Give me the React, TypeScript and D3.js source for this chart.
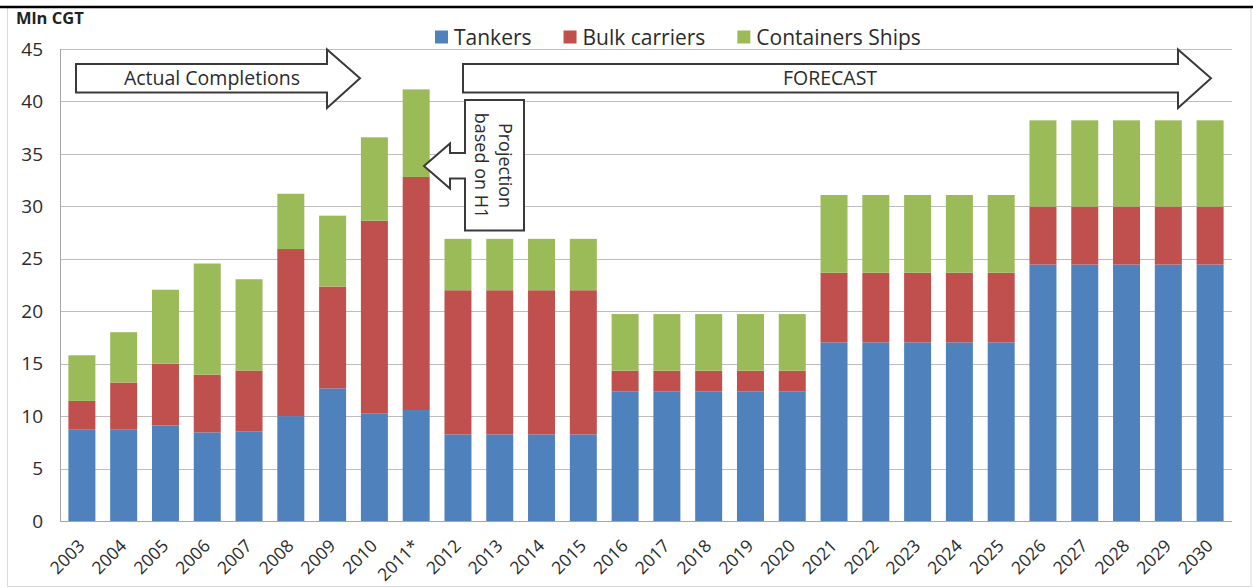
import React, { useEffect, useRef } from 'react';
import * as d3 from 'd3';

// newbuilding completions by ship type, Mln CGT (actual 2003-2011, forecast after)
const years = [
  '2003', '2004', '2005', '2006', '2007', '2008', '2009', '2010', '2011*',
  '2012', '2013', '2014', '2015', '2016', '2017', '2018', '2019', '2020',
  '2021', '2022', '2023', '2024', '2025', '2026', '2027', '2028', '2029', '2030'
];
const tankers = [
  8.75, 8.75, 9.1, 8.45, 8.55, 10.0, 12.65, 10.27, 10.58,
  8.26, 8.26, 8.26, 8.26, 12.33, 12.33, 12.33, 12.33, 12.33,
  17.03, 17.03, 17.03, 17.03, 17.03, 24.45, 24.45, 24.45, 24.45, 24.45
];
const bulkCarriers = [
  2.7, 4.45, 5.9, 5.5, 5.8, 15.93, 9.7, 18.36, 22.22,
  13.74, 13.74, 13.74, 13.74, 2.0, 2.0, 2.0, 2.0, 2.0,
  6.64, 6.64, 6.64, 6.64, 6.64, 5.52, 5.52, 5.52, 5.52, 5.52
];
const containerShips = [
  4.35, 4.8, 7.05, 10.6, 8.7, 5.27, 6.76, 7.95, 8.35,
  4.9, 4.9, 4.9, 4.9, 5.4, 5.4, 5.4, 5.4, 5.4,
  7.41, 7.41, 7.41, 7.41, 7.41, 8.23, 8.23, 8.23, 8.23, 8.23
];
const seriesNames = ['Tankers', 'Bulk carriers', 'Containers Ships'];
const yTicks = [0, 5, 10, 15, 20, 25, 30, 35, 40, 45];

const colors = ['#4F81BD', '#C0504D', '#9BBB59'];
const font = '"Open Sans", sans-serif';
const textColor = '#2b2b2b';

export default function App() {
  const ref = useRef<SVGSVGElement>(null);

  useEffect(() => {
    const width = 1253;
    const height = 588;
    const svg = d3.select(ref.current)
      .attr('width', width)
      .attr('height', height)
      .style('display', 'block')
      .style('font-family', font);
    svg.selectAll('*').remove();

    const x = d3.scaleBand<string>()
      .domain(years)
      .range([61, 1231])
      .paddingInner(0.354)
      .paddingOuter(0.177);
    const y = d3.scaleLinear().domain([0, 45]).range([521, 49]);

    // outer frame
    svg.append('rect')
      .attr('x', 7.5).attr('y', 7.5)
      .attr('width', 1243.5).attr('height', 579)
      .attr('fill', '#fff')
      .attr('stroke', '#d9d9d9');
    svg.append('line')
      .attr('x1', 0).attr('x2', width)
      .attr('y1', 7).attr('y2', 7)
      .attr('stroke', '#000').attr('stroke-width', 2.5);

    // gridlines
    svg.append('g').selectAll('line')
      .data(yTicks.filter((t) => t > 0))
      .enter().append('line')
      .attr('x1', 60).attr('x2', 1232)
      .attr('y1', (d) => Math.round(y(d)) + 0.5)
      .attr('y2', (d) => Math.round(y(d)) + 0.5)
      .attr('stroke', '#bdbdbd');

    // y tick labels
    svg.append('g').selectAll('text')
      .data(yTicks)
      .enter().append('text')
      .attr('x', 43)
      .attr('y', (d) => y(d))
      .attr('dy', '0.35em')
      .attr('text-anchor', 'end')
      .attr('font-size', 19)
      .attr('fill', textColor)
      .text((d) => d);

    svg.append('text')
      .attr('x', 16).attr('y', 24)
      .attr('font-size', 16.5)
      .attr('font-weight', 'bold')
      .attr('fill', '#222')
      .text('Mln CGT');

    // stacked bars
    const rows = years.map((yr, i) => ({
      year: yr,
      'Tankers': tankers[i],
      'Bulk carriers': bulkCarriers[i],
      'Containers Ships': containerShips[i]
    }));
    const stacked = d3.stack<any>().keys(seriesNames)(rows);
    const layers = svg.append('g').selectAll('g')
      .data(stacked)
      .enter().append('g')
      .attr('fill', (d, i) => colors[i]);
    layers.selectAll('rect')
      .data((d) => d)
      .enter().append('rect')
      .attr('x', (d: any) => x(d.data.year) as number)
      .attr('y', (d) => y(d[1]))
      .attr('width', x.bandwidth())
      .attr('height', (d) => y(d[0]) - y(d[1]));

    // axes lines
    svg.append('line')
      .attr('x1', 60.5).attr('x2', 60.5)
      .attr('y1', y(45)).attr('y2', y(0))
      .attr('stroke', '#a6a6a6');
    svg.append('line')
      .attr('x1', 60).attr('x2', 1232)
      .attr('y1', Math.round(y(0)) + 0.5).attr('y2', Math.round(y(0)) + 0.5)
      .attr('stroke', '#a6a6a6');

    // x tick labels
    svg.append('g').selectAll('text')
      .data(years)
      .enter().append('text')
      .attr('transform', (d) => 'translate(' + ((x(d) as number) + x.bandwidth() / 2 + 4) + ',547) rotate(-45)')
      .attr('text-anchor', 'end')
      .attr('font-size', 17.5)
      .attr('fill', textColor)
      .text((d) => d);

    // legend
    const legend = svg.append('g');
    let lx = 435;
    seriesNames.forEach((name, i) => {
      legend.append('rect')
        .attr('x', lx).attr('y', 30.5)
        .attr('width', 13).attr('height', 13)
        .attr('fill', colors[i]);
      const t = legend.append('text')
        .attr('x', lx + 19).attr('y', 44.5)
        .attr('font-size', 21)
        .attr('fill', textColor)
        .text(name);
      const w = (t.node() as SVGTextElement).getComputedTextLength();
      lx += 19 + w + 32;
    });

    // annotation arrows
    const arrowStyle = (p: any) => p
      .attr('fill', '#fff')
      .attr('stroke', '#3a3a3a')
      .attr('stroke-width', 2)
      .attr('stroke-linejoin', 'miter');

    const rightArrow = (x0: number, xh: number, xt: number) => {
      const bt = 64, bb = 92.5, ht = 49.5, hb = 108, my = (bt + bb) / 2;
      return 'M' + x0 + ',' + bt + 'H' + xh + 'V' + ht + 'L' + xt + ',' + my +
        'L' + xh + ',' + hb + 'V' + bb + 'H' + x0 + 'Z';
    };
    svg.append('path').attr('d', rightArrow(76, 327, 360)).call(arrowStyle);
    svg.append('text')
      .attr('x', 212).attr('y', 78.5).attr('dy', '0.35em')
      .attr('text-anchor', 'middle')
      .attr('font-size', 19.5)
      .attr('fill', textColor)
      .text('Actual Completions');

    svg.append('path').attr('d', rightArrow(463, 1178, 1211)).call(arrowStyle);
    svg.append('text')
      .attr('x', 830).attr('y', 78.5).attr('dy', '0.35em')
      .attr('text-anchor', 'middle')
      .attr('font-size', 19.5)
      .attr('fill', textColor)
      .text('FORECAST');

    // callout pointing at the 2011 projection
    const callout = 'M465,100H524V230.5H465V178.5H450V188.5L424,166L450,143.5V153H465Z';
    svg.append('path').attr('d', callout).call(arrowStyle);
    const proj = svg.append('text')
      .attr('transform', 'translate(494,165.5) rotate(90)')
      .attr('text-anchor', 'middle')
      .attr('font-size', 18)
      .attr('fill', textColor);
    proj.append('tspan').attr('x', 0).attr('dy', '-0.25em').text('Projection');
    proj.append('tspan').attr('x', 0).attr('dy', '1.3em').text('based on H1');
  }, []);

  return (
    <div style={{ position: 'absolute', left: 0, top: 0 }}>
      <svg ref={ref}></svg>
    </div>
  );
}
